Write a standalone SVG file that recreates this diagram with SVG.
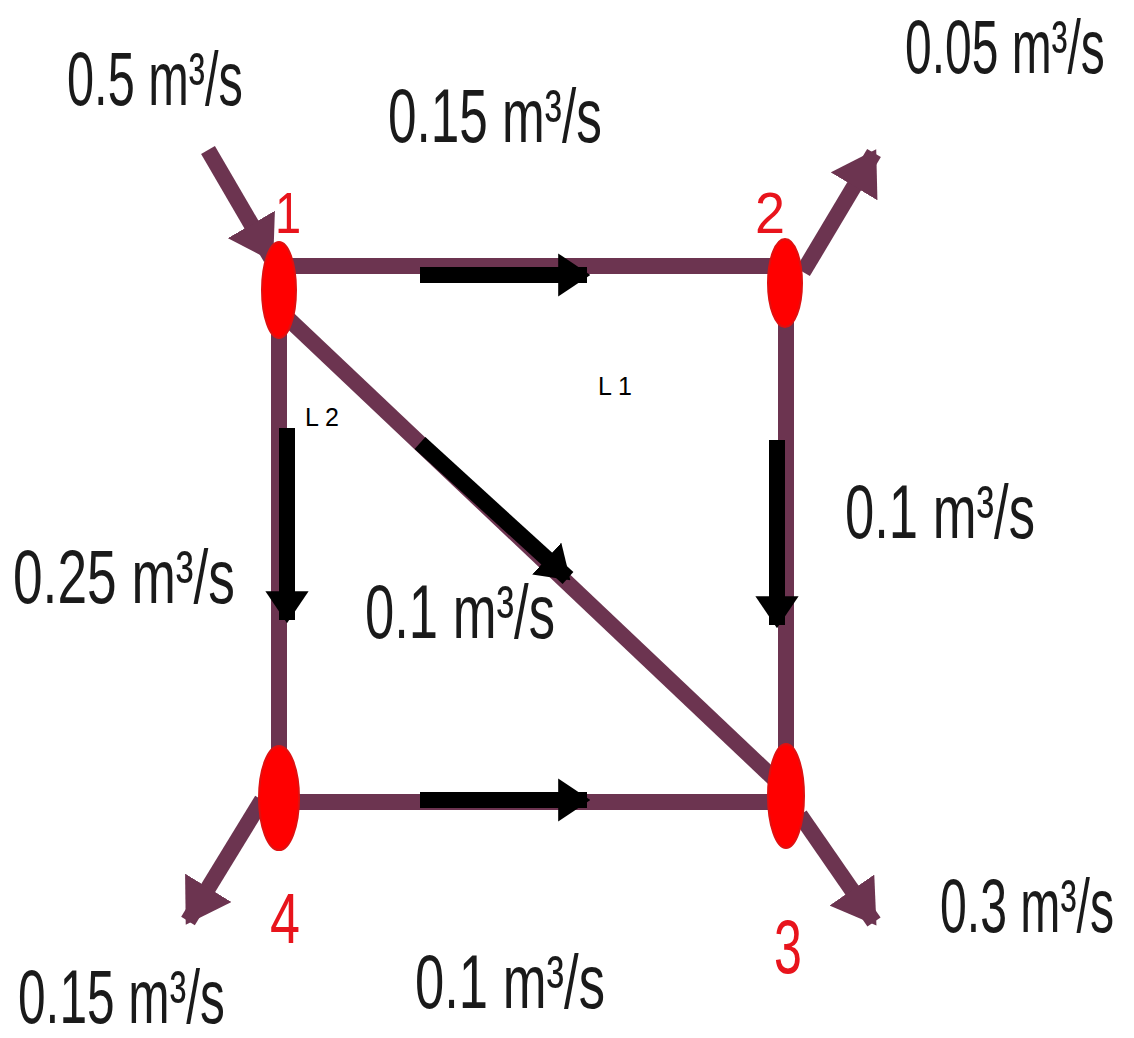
<svg xmlns="http://www.w3.org/2000/svg" width="1134" height="1038" viewBox="0 0 1134 1038">
<defs>
<style>
.pipe{stroke:#6c3450;stroke-width:16;fill:none}
.flow{stroke:#000;stroke-width:16;fill:none}
.node{fill:#ff0000;stroke:#e01010;stroke-width:2}
.lbl{font-family:"Liberation Sans",Arial,sans-serif;font-size:76px;fill:#1a1a1a}
.num{font-family:"Liberation Sans",Arial,sans-serif;font-size:58px;fill:#e8141c}
.small{font-family:"Liberation Sans",Arial,sans-serif;font-size:25px;fill:#000}
</style>
<marker id="mh" viewBox="0 0 10 10" refX="9" refY="5" markerWidth="2.7" markerHeight="3.4" orient="auto" markerUnits="strokeWidth" preserveAspectRatio="none">
<path d="M0,0 L10,5 L0,10 z" fill="#6c3450"/>
</marker>
<marker id="bh" viewBox="0 0 10 10" refX="9" refY="5" markerWidth="2" markerHeight="2.7" orient="auto" markerUnits="strokeWidth" preserveAspectRatio="none">
<path d="M0,0 L10,5 L0,10 z" fill="#000"/>
</marker>
</defs>
<rect width="1134" height="1038" fill="#fff"/>
<g id="connectors">
<line class="pipe" x1="279" y1="266" x2="786" y2="266"/>
<line class="pipe" x1="279" y1="802" x2="786" y2="802"/>
<line class="pipe" x1="279" y1="280" x2="279" y2="800"/>
<line class="pipe" x1="786" y1="280" x2="786" y2="800"/>
<line class="pipe" x1="279" y1="310" x2="786" y2="790"/>
<line class="pipe" x1="208" y1="150" x2="271" y2="258" marker-end="url(#mh)"/>
<line class="pipe" x1="803" y1="272" x2="874" y2="153" marker-end="url(#mh)"/>
<line class="pipe" x1="800" y1="815" x2="874" y2="922" marker-end="url(#mh)"/>
<line class="pipe" x1="262" y1="800" x2="188" y2="921" marker-end="url(#mh)"/>
<line class="flow" x1="420" y1="275" x2="587" y2="275" marker-end="url(#bh)"/>
<line class="flow" x1="420" y1="800" x2="587" y2="800" marker-end="url(#bh)"/>
<line class="flow" x1="287" y1="428" x2="287" y2="620" marker-end="url(#bh)"/>
<line class="flow" x1="777" y1="440" x2="777" y2="625" marker-end="url(#bh)"/>
<line class="flow" x1="420" y1="443" x2="568" y2="578" marker-end="url(#bh)"/>
</g>
<g id="node1"><ellipse class="node" cx="279" cy="290" rx="17" ry="48"/><text class="num" transform="translate(275,233) scale(0.81,1)">1</text></g>
<g id="node2"><ellipse class="node" cx="785" cy="283" rx="17" ry="44"/><text class="num" transform="translate(755,233) scale(0.93,1)">2</text></g>
<g id="node3"><ellipse class="node" cx="786" cy="796" rx="18" ry="52"/><text class="num" style="font-size:76px" transform="translate(774,973) scale(0.66,1)">3</text></g>
<g id="node4"><ellipse class="node" cx="279" cy="798" rx="20" ry="52"/><text class="num" style="font-size:70px" transform="translate(270,943) scale(0.77,1)">4</text></g>
<g id="labels">
<text class="lbl" transform="translate(67,105) scale(0.641,1)">0.5 m³/s</text>
<text class="lbl" transform="translate(388,142) scale(0.675,1)">0.15 m³/s</text>
<text class="lbl" transform="translate(905,73) scale(0.631,1)">0.05 m³/s</text>
<text class="lbl" transform="translate(845,538) scale(0.692,1)">0.1 m³/s</text>
<text class="lbl" transform="translate(13,603) scale(0.701,1)">0.25 m³/s</text>
<text class="lbl" transform="translate(365,638) scale(0.692,1)">0.1 m³/s</text>
<text class="lbl" transform="translate(940,932) scale(0.634,1)">0.3 m³/s</text>
<text class="lbl" transform="translate(18,1023) scale(0.653,1)">0.15 m³/s</text>
<text class="lbl" transform="translate(415,1008) scale(0.692,1)">0.1 m³/s</text>
<text class="small" x="598" y="395">L 1</text>
<text class="small" x="305" y="426">L 2</text>
</g>
</svg>
